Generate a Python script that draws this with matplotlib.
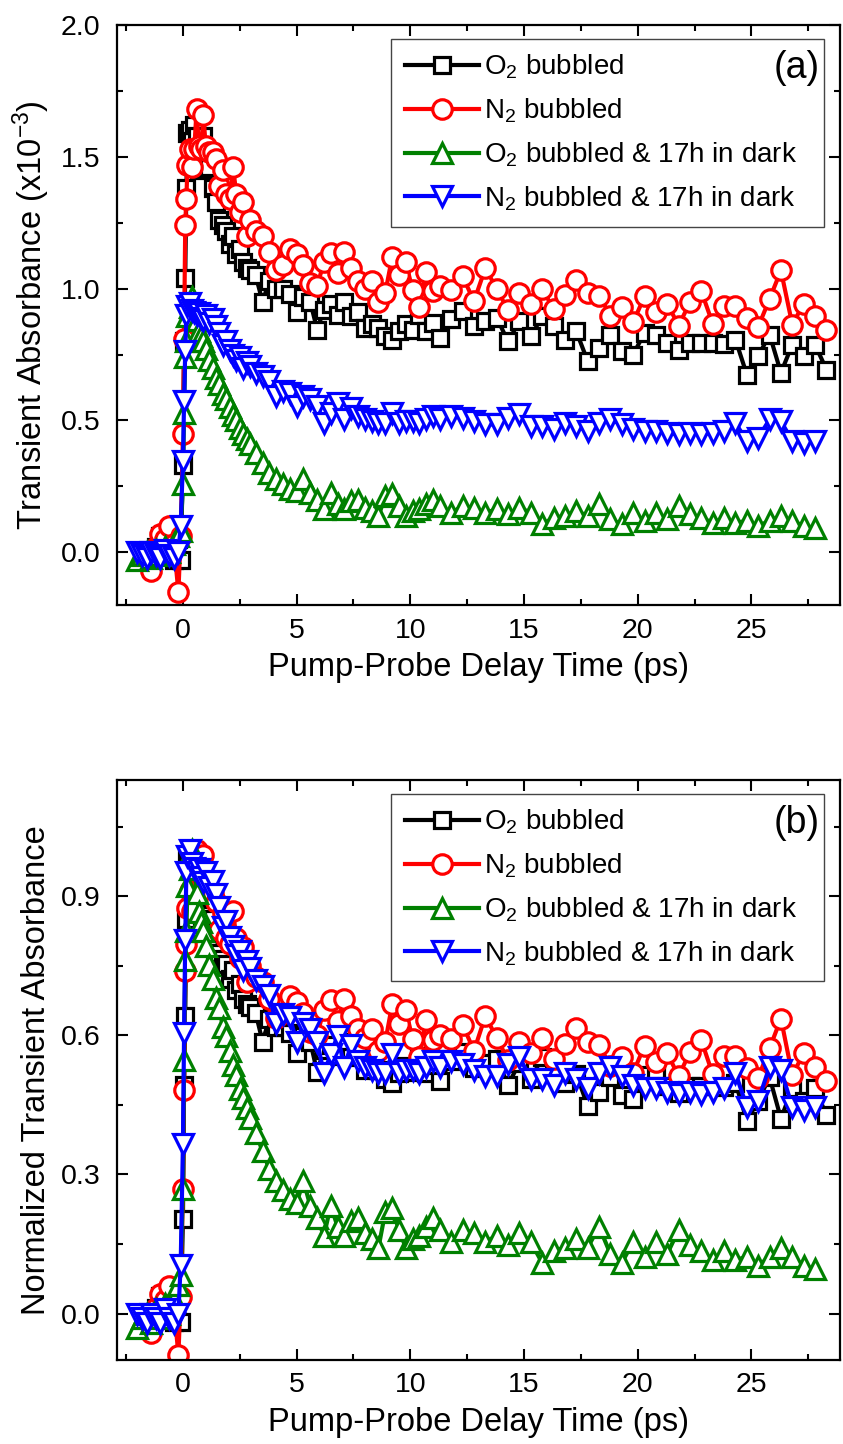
"""
Transient absorbance kinetics: raw (a) and peak-normalised (b) traces
for O2 / N2 bubbled samples, fresh and after 17 h in the dark.
"""

import numpy as np
import matplotlib
matplotlib.use("Agg")
import matplotlib.pyplot as plt
from matplotlib import font_manager as fm
from matplotlib.ticker import MultipleLocator, FormatStrFormatter

plt.rcParams["font.family"] = ["Liberation Sans", "DejaVu Sans"]
plt.rcParams["mathtext.fontset"] = "custom"
plt.rcParams["mathtext.rm"] = "Liberation Sans"
plt.rcParams["mathtext.it"] = "Liberation Sans:italic"

# axis text in the original is a condensed sans; use Narrow if present
try:
    fm.findfont("Liberation Sans Narrow", fallback_to_default=False)
    AXIS_FONT = ["Liberation Sans Narrow", "Liberation Sans", "DejaVu Sans"]
    TICK_SIZE, LABEL_SIZE = 24, 28.5
except ValueError:
    AXIS_FONT = ["Liberation Sans", "DejaVu Sans"]
    TICK_SIZE, LABEL_SIZE = 20.5, 23.5

# ── Data (ΔA in units of 1e-3) ──────────────────────────────────────────────

t_ps = [-2.0, -1.8, -1.6, -1.4, -1.2, -1.0, -0.8, -0.6, -0.4, -0.2,
        -0.1, 0.0, 0.05, 0.1, 0.15, 0.2, 0.3, 0.4, 0.5, 0.6, 0.7, 0.8, 0.9, 1.0,
        1.15, 1.3, 1.45, 1.6, 1.75, 1.9, 2.05, 2.2, 2.35, 2.5, 2.65, 2.8, 2.95,
        3.2, 3.5, 3.8, 4.1, 4.4, 4.7, 5.0, 5.3, 5.6, 5.9, 6.2, 6.5, 6.8, 7.1,
        7.4, 7.7, 8.0, 8.3, 8.6, 8.9, 9.2, 9.5, 9.8, 10.1, 10.4, 10.7, 11.0,
        11.3, 11.8, 12.3, 12.8, 13.3, 13.8, 14.3, 14.8, 15.3, 15.8, 16.3, 16.8,
        17.3, 17.8, 18.3, 18.8, 19.3, 19.8, 20.3, 20.8, 21.3, 21.8, 22.3, 22.8,
        23.3, 23.8, 24.3, 24.8, 25.3, 25.8, 26.3, 26.8, 27.3, 27.8, 28.3]

o2_bubbled = [
    None, None, None, -0.01, 0.02, 0.06, -0.01, 0.03, -0.03, 0.05,
    -0.03, 0.33, 0.80, 1.04, 1.38, 1.59, 1.60, 1.56, 1.62, 1.58, 1.45, 1.47, 1.58, 1.46,
    1.46, 1.38, 1.33, 1.26, 1.24, 1.22, 1.17, 1.20, 1.13, 1.15, 1.10, 1.08, 1.07,
    1.05, 0.95, 1.03, 1.00, 1.00, 0.98, 0.91, 0.97, 0.95, 0.845, 0.92, 0.94, 0.90,
    0.95, 0.895, 0.91, 0.85, 0.865, 0.85, 0.82, 0.805, 0.84, 0.865, 0.845, 0.90,
    0.84, 0.87,
    0.813, 0.883, 0.914, 0.857, 0.876, 0.889, 0.80, 0.876, 0.819, 0.895, 0.857,
    0.807, 0.838, 0.725, 0.775, 0.826, 0.763, 0.75, 0.832, 0.826, 0.794, 0.769,
    0.794, 0.794, 0.794, 0.79, 0.807, 0.674, 0.744, 0.826, 0.681, 0.788, 0.744,
    0.788, 0.693]

n2_bubbled = [
    None, None, None, -0.07, 0.02, 0.07, 0.05, 0.10, 0.03, -0.15,
    0.06, 0.45, 0.81, 1.24, 1.34, 1.47, 1.53, 1.46, 1.53, 1.68, 1.54, 1.53, 1.66, 1.54,
    1.52, 1.52, 1.49, 1.39, 1.45, 1.36, 1.34, 1.46, 1.36, 1.29, 1.33, 1.20, 1.26,
    1.22, 1.20, 1.14, 1.07, 1.09, 1.15, 1.13, 1.09, 1.02, 1.01, 1.10, 1.135, 1.06,
    1.14, 1.08, 1.03, 1.00, 1.03, 0.95, 0.985, 1.12, 1.05, 1.10, 0.995, 0.93,
    1.065, 0.99,
    1.009, 0.996, 1.047, 0.952, 1.078, 0.999, 0.918, 0.984, 0.943, 0.999, 0.923,
    0.977, 1.034, 0.984, 0.973, 0.898, 0.931, 0.872, 0.971, 0.910, 0.943, 0.86,
    0.948, 0.99, 0.867, 0.933, 0.933, 0.889, 0.855, 0.961, 1.069, 0.864, 0.943,
    0.895, 0.842]

o2_dark = [
    -0.03, -0.01, 0.00, -0.02, 0.01, -0.01, 0.02, 0.00, 0.03, 0.06,
    0.08, 0.26, 0.53, 0.74, 0.80, 0.895, 0.93, 0.97, 0.95, 0.88, 0.84, 0.82, 0.80, 0.77,
    0.73, 0.70, 0.66, 0.64, 0.60, 0.58, 0.55, 0.52, 0.50, 0.47, 0.45, 0.43, 0.41,
    0.378, 0.34, 0.302, 0.277, 0.258, 0.239, 0.232, 0.277, 0.226, 0.20, 0.163,
    0.226, 0.182, 0.163, 0.194, 0.20, 0.169, 0.157, 0.138, 0.213, 0.22, 0.175,
    0.138, 0.157, 0.163, 0.182, 0.20,
    0.175, 0.15, 0.175, 0.169, 0.15, 0.163, 0.144, 0.169, 0.15, 0.106, 0.131,
    0.138, 0.157, 0.138, 0.182, 0.125, 0.106, 0.15, 0.119, 0.15, 0.125, 0.175,
    0.144, 0.131, 0.112, 0.13, 0.112, 0.119, 0.10, 0.119, 0.138, 0.119, 0.10,
    0.093, None]

n2_dark = [
    0.00, -0.01, -0.02, 0.00, -0.01, -0.02, 0.01, -0.01, -0.02, 0.00,
    0.10, 0.346, 0.573, 0.762, 0.90, 0.933, 0.946, 0.92, 0.91, 0.90, 0.908, 0.89, 0.88, 0.90,
    0.87, 0.883, 0.857, 0.83, 0.788, 0.80, 0.769, 0.75, 0.731, 0.74, 0.70, 0.72, 0.706,
    0.68, 0.668, 0.649, 0.592, 0.611, 0.605, 0.554, 0.592, 0.58, 0.554, 0.491,
    0.529, 0.567, 0.504, 0.548, 0.516, 0.504, 0.497, 0.491, 0.491, 0.529, 0.491,
    0.497, 0.497, 0.491, 0.504, 0.516,
    0.504, 0.516, 0.51, 0.497, 0.485, 0.485, 0.51, 0.523, 0.479, 0.479, 0.466,
    0.491, 0.479, 0.46, 0.491, 0.504, 0.485, 0.466, 0.46, 0.46, 0.453, 0.447,
    0.453, 0.447, 0.453, 0.46, 0.491, 0.422, 0.434, 0.504, 0.497, 0.422, 0.415,
    0.422, None]

labels = ["O$_2$ bubbled", "N$_2$ bubbled",
          "O$_2$ bubbled & 17h in dark", "N$_2$ bubbled & 17h in dark"]

# ── Styling ─────────────────────────────────────────────────────────────────

STYLES = [
    dict(color="#000000", marker="s", ms=11.5),
    dict(color="#FF0000", marker="o", ms=14),
    dict(color="#008000", marker="^", ms=15),
    dict(color="#0000FF", marker="v", ms=15),
]


def style_axes(ax, ylim, ymajor, yminor, ylabel):
    ax.set_xlim(-2.9, 28.9)
    ax.set_ylim(*ylim)
    ax.xaxis.set_major_locator(MultipleLocator(5))
    ax.xaxis.set_minor_locator(MultipleLocator(2.5))
    ax.yaxis.set_major_locator(MultipleLocator(ymajor))
    ax.yaxis.set_minor_locator(MultipleLocator(yminor))
    ax.yaxis.set_major_formatter(FormatStrFormatter("%.1f"))
    ax.tick_params(which="both", direction="in", top=True, right=True, width=1.5)
    ax.tick_params(which="major", length=8)
    ax.tick_params(which="minor", length=4.5)
    ax.tick_params(axis="x", pad=9)
    ax.tick_params(axis="y", pad=12)
    for lab in ax.get_xticklabels() + ax.get_yticklabels():
        lab.set_family(AXIS_FONT)
        lab.set_fontsize(TICK_SIZE)
    for sp in ax.spines.values():
        sp.set_linewidth(1.6)
    ax.set_xlabel("Pump-Probe Delay Time (ps)", family=AXIS_FONT,
                  fontsize=LABEL_SIZE, labelpad=6)
    ax.set_ylabel(ylabel, family=AXIS_FONT, fontsize=LABEL_SIZE, labelpad=6)


def draw_panel(ax, series, tag):
    t = np.array(t_ps, dtype=float)
    for vals, st, lab in zip(series, STYLES, labels):
        ax.plot(t, vals, color=st["color"], lw=3.0, marker=st["marker"],
                ms=st["ms"], mfc="white", mec=st["color"], mew=2.3, label=lab)
    leg = ax.legend(loc="upper left", bbox_to_anchor=(0.379, 0.0, 0.599, 0.976),
                    mode="expand", fontsize=20, fancybox=False, framealpha=1,
                    edgecolor="#444444", handlelength=2.65, numpoints=1,
                    labelspacing=0.55, borderpad=0.5, handletextpad=0.2,
                    borderaxespad=0)
    leg.get_frame().set_linewidth(1.0)
    ax.text(0.972, 0.925, tag, transform=ax.transAxes, ha="right",
            va="center", fontsize=27, zorder=10)


# ── Figure ──────────────────────────────────────────────────────────────────

raw = [np.array(s, dtype=float) for s in (o2_bubbled, n2_bubbled, o2_dark, n2_dark)]
norm = [s / np.nanmax(s) for s in raw]

fig = plt.figure(figsize=(8.43, 14.44), dpi=100)
ax_a = fig.add_axes([0.1388, 0.581, 0.8577, 0.4017])
ax_b = fig.add_axes([0.1388, 0.0582, 0.8577, 0.4017])

draw_panel(ax_a, raw, "(a)")
style_axes(ax_a, (-0.2, 2.0), 0.5, 0.25, "Transient Absorbance (x10$^{-3}$)")

draw_panel(ax_b, norm, "(b)")
style_axes(ax_b, (-0.1, 1.151), 0.3, 0.15, "Normalized Transient Absorbance")

fig.savefig("out.png", dpi=100)
plt.close(fig)
